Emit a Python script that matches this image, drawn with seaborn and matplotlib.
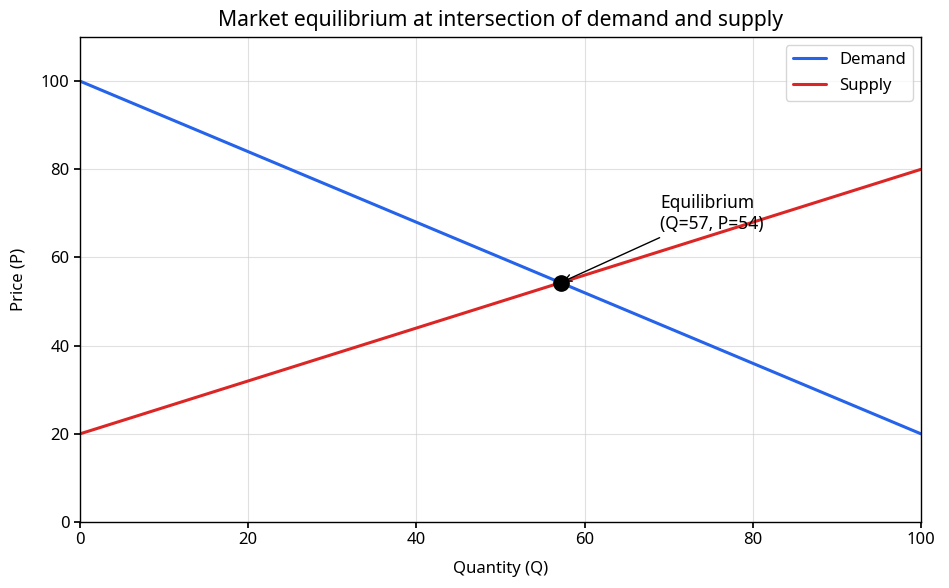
import numpy as np
import pandas as pd
import matplotlib
matplotlib.use("Agg")
import matplotlib.pyplot as plt
import seaborn as sns

# Data
quantity = [0, 100]
demand_price = [100, 20]
supply_price = [20, 80]
eq_q = 400 / 7   # where 100 - 0.8Q = 20 + 0.6Q
eq_p = 100 - 0.8 * eq_q

df = pd.DataFrame({
    "Quantity": quantity * 2,
    "Price": demand_price + supply_price,
    "Curve": ["Demand"] * 2 + ["Supply"] * 2,
})

sns.set_theme(style="ticks")
plt.rcParams["font.family"] = ["Noto Sans", "DejaVu Sans"]
plt.rcParams["text.color"] = "black"
plt.rcParams["axes.labelcolor"] = "black"

fig, ax = plt.subplots(figsize=(9.49, 5.88), dpi=100)
fig.subplots_adjust(left=0.0843, right=0.9705, top=0.937, bottom=0.1122)

sns.lineplot(data=df, x="Quantity", y="Price", hue="Curve",
             palette={"Demand": "#2563eb", "Supply": "#dc2626"},
             linewidth=2.2, ax=ax)
ax.plot([eq_q], [eq_p], "o", color="black", ms=11, zorder=5)
ax.annotate(f"Equilibrium\n(Q={eq_q:.0f}, P={eq_p:.0f})", xy=(eq_q, eq_p),
            xytext=(69, 65.5), fontsize=12.5, ha="left", va="bottom",
            multialignment="left",
            arrowprops=dict(arrowstyle="->", color="black", lw=1))

ax.set_xlim(0, 100)
ax.set_ylim(0, 110)
ax.set_xticks(range(0, 101, 20))
ax.set_yticks(range(0, 101, 20))
ax.grid(True, color="#cccccc", alpha=0.6, linewidth=0.8)
for s in ax.spines.values():
    s.set_visible(True)
    s.set_color("black")
    s.set_linewidth(1)
ax.tick_params(labelsize=12, colors="black", length=4)
ax.set_xlabel("Quantity (Q)", fontsize=12, labelpad=9)
ax.set_ylabel("Price (P)", fontsize=12, labelpad=10)
ax.set_title("Market equilibrium at intersection of demand and supply",
             fontsize=15.2, pad=8)
ax.legend(loc="upper right", fontsize=12, title=None, labelspacing=0.6)

fig.savefig("out.png", dpi=100)
